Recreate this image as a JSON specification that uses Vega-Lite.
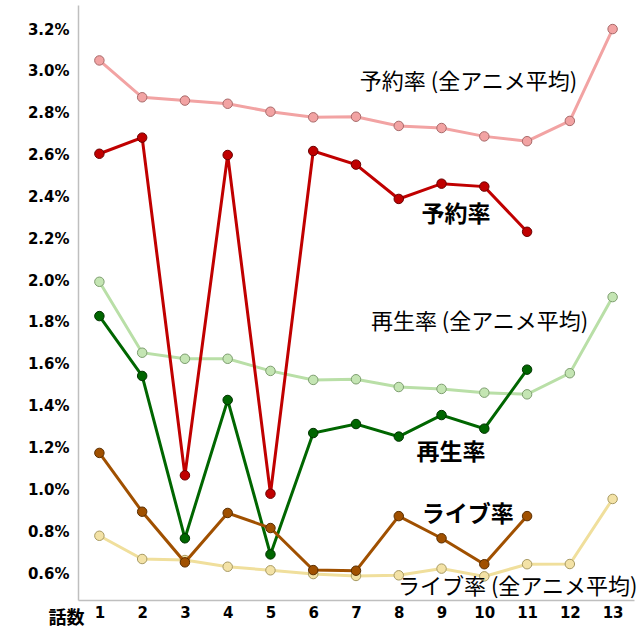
{
  "$schema": "https://vega.github.io/schema/vega-lite/v6.json",
  "width": 556,
  "height": 595,
  "autosize": {"type": "none"},
  "padding": {"left": 78, "top": 5, "right": 6, "bottom": 40},
  "background": "white",
  "config": {"view": {"stroke": null}},
  "datasets": {
    "series": [
      {"ep": 1, "s": "予約率 (全アニメ平均)", "k": "avg", "v": 3.05},
      {"ep": 2, "s": "予約率 (全アニメ平均)", "k": "avg", "v": 2.874},
      {"ep": 3, "s": "予約率 (全アニメ平均)", "k": "avg", "v": 2.858},
      {"ep": 4, "s": "予約率 (全アニメ平均)", "k": "avg", "v": 2.843},
      {"ep": 5, "s": "予約率 (全アニメ平均)", "k": "avg", "v": 2.805},
      {"ep": 6, "s": "予約率 (全アニメ平均)", "k": "avg", "v": 2.778},
      {"ep": 7, "s": "予約率 (全アニメ平均)", "k": "avg", "v": 2.781},
      {"ep": 8, "s": "予約率 (全アニメ平均)", "k": "avg", "v": 2.737},
      {"ep": 9, "s": "予約率 (全アニメ平均)", "k": "avg", "v": 2.727},
      {"ep": 10, "s": "予約率 (全アニメ平均)", "k": "avg", "v": 2.687},
      {"ep": 11, "s": "予約率 (全アニメ平均)", "k": "avg", "v": 2.664},
      {"ep": 12, "s": "予約率 (全アニメ平均)", "k": "avg", "v": 2.761},
      {"ep": 13, "s": "予約率 (全アニメ平均)", "k": "avg", "v": 3.2},
      {"ep": 1, "s": "再生率 (全アニメ平均)", "k": "avg", "v": 1.992},
      {"ep": 2, "s": "再生率 (全アニメ平均)", "k": "avg", "v": 1.653},
      {"ep": 3, "s": "再生率 (全アニメ平均)", "k": "avg", "v": 1.624},
      {"ep": 4, "s": "再生率 (全アニメ平均)", "k": "avg", "v": 1.624},
      {"ep": 5, "s": "再生率 (全アニメ平均)", "k": "avg", "v": 1.566},
      {"ep": 6, "s": "再生率 (全アニメ平均)", "k": "avg", "v": 1.523},
      {"ep": 7, "s": "再生率 (全アニメ平均)", "k": "avg", "v": 1.526},
      {"ep": 8, "s": "再生率 (全アニメ平均)", "k": "avg", "v": 1.489},
      {"ep": 9, "s": "再生率 (全アニメ平均)", "k": "avg", "v": 1.48},
      {"ep": 10, "s": "再生率 (全アニメ平均)", "k": "avg", "v": 1.462},
      {"ep": 11, "s": "再生率 (全アニメ平均)", "k": "avg", "v": 1.454},
      {"ep": 12, "s": "再生率 (全アニメ平均)", "k": "avg", "v": 1.555},
      {"ep": 13, "s": "再生率 (全アニメ平均)", "k": "avg", "v": 1.919},
      {"ep": 1, "s": "ライブ率 (全アニメ平均)", "k": "avg", "v": 0.778},
      {"ep": 2, "s": "ライブ率 (全アニメ平均)", "k": "avg", "v": 0.667},
      {"ep": 3, "s": "ライブ率 (全アニメ平均)", "k": "avg", "v": 0.662},
      {"ep": 4, "s": "ライブ率 (全アニメ平均)", "k": "avg", "v": 0.63},
      {"ep": 5, "s": "ライブ率 (全アニメ平均)", "k": "avg", "v": 0.613},
      {"ep": 6, "s": "ライブ率 (全アニメ平均)", "k": "avg", "v": 0.595},
      {"ep": 7, "s": "ライブ率 (全アニメ平均)", "k": "avg", "v": 0.586},
      {"ep": 8, "s": "ライブ率 (全アニメ平均)", "k": "avg", "v": 0.589},
      {"ep": 9, "s": "ライブ率 (全アニメ平均)", "k": "avg", "v": 0.621},
      {"ep": 10, "s": "ライブ率 (全アニメ平均)", "k": "avg", "v": 0.584},
      {"ep": 11, "s": "ライブ率 (全アニメ平均)", "k": "avg", "v": 0.642},
      {"ep": 12, "s": "ライブ率 (全アニメ平均)", "k": "avg", "v": 0.643},
      {"ep": 13, "s": "ライブ率 (全アニメ平均)", "k": "avg", "v": 0.954},
      {"ep": 1, "s": "予約率", "k": "main", "v": 2.604},
      {"ep": 2, "s": "予約率", "k": "main", "v": 2.681},
      {"ep": 3, "s": "予約率", "k": "main", "v": 1.067},
      {"ep": 4, "s": "予約率", "k": "main", "v": 2.598},
      {"ep": 5, "s": "予約率", "k": "main", "v": 0.979},
      {"ep": 6, "s": "予約率", "k": "main", "v": 2.617},
      {"ep": 7, "s": "予約率", "k": "main", "v": 2.552},
      {"ep": 8, "s": "予約率", "k": "main", "v": 2.388},
      {"ep": 9, "s": "予約率", "k": "main", "v": 2.461},
      {"ep": 10, "s": "予約率", "k": "main", "v": 2.447},
      {"ep": 11, "s": "予約率", "k": "main", "v": 2.231},
      {"ep": 1, "s": "再生率", "k": "main", "v": 1.828},
      {"ep": 2, "s": "再生率", "k": "main", "v": 1.542},
      {"ep": 3, "s": "再生率", "k": "main", "v": 0.766},
      {"ep": 4, "s": "再生率", "k": "main", "v": 1.427},
      {"ep": 5, "s": "再生率", "k": "main", "v": 0.689},
      {"ep": 6, "s": "再生率", "k": "main", "v": 1.269},
      {"ep": 7, "s": "再生率", "k": "main", "v": 1.312},
      {"ep": 8, "s": "再生率", "k": "main", "v": 1.252},
      {"ep": 9, "s": "再生率", "k": "main", "v": 1.355},
      {"ep": 10, "s": "再生率", "k": "main", "v": 1.29},
      {"ep": 11, "s": "再生率", "k": "main", "v": 1.572},
      {"ep": 1, "s": "ライブ率", "k": "main", "v": 1.174},
      {"ep": 2, "s": "ライブ率", "k": "main", "v": 0.893},
      {"ep": 3, "s": "ライブ率", "k": "main", "v": 0.651},
      {"ep": 4, "s": "ライブ率", "k": "main", "v": 0.887},
      {"ep": 5, "s": "ライブ率", "k": "main", "v": 0.815},
      {"ep": 6, "s": "ライブ率", "k": "main", "v": 0.614},
      {"ep": 7, "s": "ライブ率", "k": "main", "v": 0.611},
      {"ep": 8, "s": "ライブ率", "k": "main", "v": 0.872},
      {"ep": 9, "s": "ライブ率", "k": "main", "v": 0.766},
      {"ep": 10, "s": "ライブ率", "k": "main", "v": 0.642},
      {"ep": 11, "s": "ライブ率", "k": "main", "v": 0.872}
    ],
    "labels": [
      {"x": 9.63, "y": 2.949, "t": "予約率 (全アニメ平均)", "b": "normal"},
      {"x": 9.89, "y": 1.801, "t": "再生率 (全アニメ平均)", "b": "normal"},
      {"x": 10.78, "y": 0.535, "t": "ライブ率 (全アニメ平均)", "b": "normal"},
      {"x": 9.34, "y": 2.311, "t": "予約率", "b": "bold"},
      {"x": 9.22, "y": 1.174, "t": "再生率", "b": "bold"},
      {"x": 9.61, "y": 0.877, "t": "ライブ率", "b": "bold"}
    ]
  },
  "layer": [
    {
      "data": {"name": "series"},
      "transform": [{"filter": "datum.k === 'avg'"}],
      "mark": {"type": "line", "strokeWidth": 3},
      "encoding": {
        "x": {
          "field": "ep", "type": "quantitative",
          "scale": {"domain": [0.5, 13.5], "nice": false, "zero": false},
          "axis": {
            "values": [1,2,3,4,5,6,7,8,9,10,11,12,13],
            "title": "話数", "titleFont": "Noto Sans CJK JP", "titleFontSize": 18, "titleFontWeight": "bold",
            "titleColor": "#000", "titleAnchor": "start", "titleAlign": "center", "titleBaseline": "middle",
            "titleX": -12, "titleY": 18,
            "labelFont": "DejaVu Sans", "labelFontSize": 15, "labelFontWeight": "bold", "labelColor": "#000",
            "labelPadding": 5, "ticks": false, "grid": false,
            "domainColor": "#BFBFBF", "domainWidth": 1.5
          }
        },
        "y": {
          "field": "v", "type": "quantitative",
          "scale": {"domain": [0.471, 3.315], "nice": false, "zero": false},
          "axis": {
            "values": [0.6,0.8,1.0,1.2,1.4,1.6,1.8,2.0,2.2,2.4,2.6,2.8,3.0,3.2],
            "labelExpr": "format(datum.value, '.1f') + '%'",
            "title": null,
            "labelFont": "DejaVu Sans", "labelFontSize": 15, "labelFontWeight": "bold", "labelColor": "#000",
            "labelPadding": 9, "ticks": false, "grid": false,
            "domainColor": "#BFBFBF", "domainWidth": 1.5
          }
        },
        "color": {
          "field": "s", "type": "nominal", "legend": null,
          "scale": {
            "domain": ["予約率 (全アニメ平均)", "予約率", "再生率 (全アニメ平均)", "再生率", "ライブ率 (全アニメ平均)", "ライブ率"],
            "range": ["#F2A3A3", "#C00000", "#B9DFA7", "#006600", "#F0DF9C", "#A05000"]
          }
        }
      }
    },
    {
      "data": {"name": "series"},
      "transform": [{"filter": "datum.k === 'avg'"}],
      "mark": {"type": "point", "filled": true, "size": 90, "strokeWidth": 1, "opacity": 1},
      "encoding": {
        "x": {"field": "ep", "type": "quantitative"},
        "y": {"field": "v", "type": "quantitative"},
        "fill": {
          "field": "s", "type": "nominal", "legend": null,
          "scale": {
            "domain": ["予約率 (全アニメ平均)", "予約率", "再生率 (全アニメ平均)", "再生率", "ライブ率 (全アニメ平均)", "ライブ率"],
            "range": ["#F2A3A3", "#C00000", "#C4E5B3", "#006600", "#F3E2A6", "#A05000"]
          }
        },
        "stroke": {
          "field": "s", "type": "nominal", "legend": null,
          "scale": {
            "domain": ["予約率 (全アニメ平均)", "予約率", "再生率 (全アニメ平均)", "再生率", "ライブ率 (全アニメ平均)", "ライブ率"],
            "range": ["#A86A6A", "#6A0000", "#7E9E70", "#003300", "#A89A62", "#5A2E00"]
          }
        }
      }
    },
    {
      "data": {"name": "series"},
      "transform": [{"filter": "datum.k === 'main'"}],
      "mark": {"type": "line", "strokeWidth": 3},
      "encoding": {
        "x": {"field": "ep", "type": "quantitative"},
        "y": {"field": "v", "type": "quantitative"},
        "color": {"field": "s", "type": "nominal", "legend": null}
      }
    },
    {
      "data": {"name": "series"},
      "transform": [{"filter": "datum.k === 'main'"}],
      "mark": {"type": "point", "filled": true, "size": 90, "strokeWidth": 1, "opacity": 1},
      "encoding": {
        "x": {"field": "ep", "type": "quantitative"},
        "y": {"field": "v", "type": "quantitative"},
        "fill": {"field": "s", "type": "nominal", "legend": null},
        "stroke": {"field": "s", "type": "nominal", "legend": null}
      }
    },
    {
      "data": {"name": "labels"},
      "transform": [{"filter": "datum.b === 'normal'"}],
      "mark": {"type": "text", "font": "Noto Sans CJK JP", "fontSize": 22, "fontWeight": "normal", "align": "center", "baseline": "middle", "color": "#000"},
      "encoding": {
        "x": {"field": "x", "type": "quantitative"},
        "y": {"field": "y", "type": "quantitative"},
        "text": {"field": "t"}
      }
    },
    {
      "data": {"name": "labels"},
      "transform": [{"filter": "datum.b === 'bold'"}],
      "mark": {"type": "text", "font": "Noto Sans CJK JP", "fontSize": 23, "fontWeight": "bold", "align": "center", "baseline": "middle", "color": "#000"},
      "encoding": {
        "x": {"field": "x", "type": "quantitative"},
        "y": {"field": "y", "type": "quantitative"},
        "text": {"field": "t"}
      }
    }
  ]
}
